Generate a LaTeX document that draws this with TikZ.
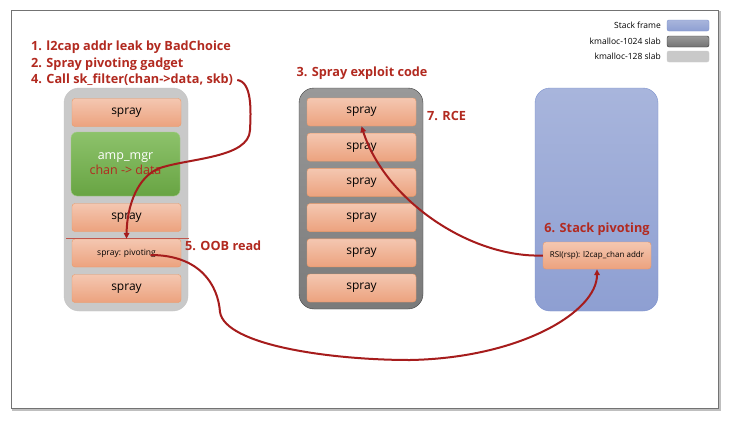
\documentclass[tikz,border=0pt]{standalone}
\usepackage{fontspec}
\setmainfont{Open Sans}
\usepackage{xcolor}
\usepackage{tikz}
\usetikzlibrary{arrows.meta, positioning, calc}
\definecolor{labelred}{HTML}{B22A20}
\definecolor{arrowred}{HTML}{A61C1C}
\definecolor{sprayline}{HTML}{EE9A66}
\definecolor{spraytop}{HTML}{F4C7B1}
\definecolor{spraybot}{HTML}{ECA27E}
\definecolor{mgrtop}{HTML}{8DC26B}
\definecolor{mgrbot}{HTML}{68A443}
\definecolor{stacktop}{HTML}{A8B5DC}
\definecolor{stackbot}{HTML}{8E9FD2}
\definecolor{stackline}{HTML}{7D92CE}

\begin{document}
\begin{tikzpicture}[
  x=1pt, y=-1pt,
  every node/.style={inner sep=0pt, font=\fontsize{12}{14}\selectfont},
  spraybox/.style={rectangle, rounded corners=3pt, draw=sprayline, top color=spraytop, bottom color=spraybot, minimum width=109pt, minimum height=28pt},
  slablight/.style={rectangle, rounded corners=15pt, draw=gray!45, fill=gray!42},
  slabdark/.style={rectangle, rounded corners=15pt, draw=black!75, top color=black!40, bottom color=black!52},
  stackbox/.style={rectangle, rounded corners=15pt, draw=stackline, top color=stacktop, bottom color=stackbot},
  steplabel/.style={text=labelred, font=\fontsize{12.7}{14}\selectfont\bfseries},
  legendtext/.style={anchor=east, font=\fontsize{8.5}{10}\selectfont},
  legendbox/.style={rectangle, rounded corners=2pt, minimum width=42pt, minimum height=11pt},
  redarrow/.style={draw=arrowred, line width=2pt, -{Triangle[length=6pt, width=5.5pt]}}
]
  \useasboundingbox (0,0) rectangle (730,423);
  % frame
  \draw[black!25, line width=2pt] (13,12) rectangle (720,410);
  \draw[black!55, fill=white, line width=0.8pt] (11,10) rectangle (718,408);

  % legend
  \node[legendtext] (lgstack) at (661,25.5) {Stack frame};
  \node[legendbox, draw=stackline, top color=stacktop, bottom color=stackbot] (bxstack) at (688,25.5) {};
  \node[legendtext] (lgdark) at (661,41.5) {kmalloc-1024 slab};
  \node[legendbox, draw=black!80, top color=black!40, bottom color=black!55] (bxdark) at (688,41.5) {};
  \node[legendtext] (lglight) at (661,56.5) {kmalloc-128 slab};
  \node[legendbox, draw=gray!40, fill=gray!42] (bxlight) at (688,56.5) {};

  % slabs
  \node[slablight, minimum width=124pt, minimum height=223pt] (slab128) at (126,199.5) {};
  \node[slabdark, minimum width=124pt, minimum height=221pt] (slab1024) at (361,198.5) {};
  \node[stackbox, minimum width=123pt, minimum height=223pt] (stack) at (596.5,199.5) {};

  % kmalloc-128 objects
  \node[spraybox] (sp1) at (126.5,112.5) {spray};
  \node[rectangle, rounded corners=6pt, draw=mgrtop!80, top color=mgrtop, bottom color=mgrbot, minimum width=109pt, minimum height=64pt, align=center, text=white, font=\fontsize{12.5}{14}\selectfont] (mgr) at (125.5,164) {amp\_mgr\\[1pt]\textcolor{labelred}{chan -> data}};
  \node[spraybox] (sp2) at (126.5,217.5) {spray};
  \node[spraybox, font=\fontsize{8.5}{10}\selectfont] (pivot) at (126.5,253) {spray: pivoting};
  \node[spraybox] (sp3) at (126.5,288.5) {spray};
  \draw[labelred!80, line width=0.9pt] (66,238) -- (189,238);

  % kmalloc-1024 objects
  \foreach \i in {0,...,5}
    \node[spraybox] (ex\i) at (361.5,112+35.2*\i) {spray};

  % stack frame
  \node[spraybox, minimum width=108pt, minimum height=27pt, font=\fontsize{8}{10}\selectfont] (rsi) at (597,255.5) {RSI(rsp): l2cap\_chan addr};

  % step labels
  \node[steplabel, anchor=west] (st1) at (31,47) {1. l2cap addr leak by BadChoice};
  \node[steplabel, anchor=west] (st2) at (31,64) {2. Spray pivoting gadget};
  \node[steplabel, anchor=west] (st4) at (31,80) {4. Call sk\_filter(chan->data, skb)};
  \node[steplabel] (st3) at (362,73) {3. Spray exploit code};
  \node[steplabel, anchor=west] (st7) at (427,116) {7. RCE};
  \node[steplabel, anchor=west] (st5) at (185,246) {5. OOB read};
  \node[steplabel] (st6) at (597,229) {6. Stack pivoting};

  % arrows
  \coordinate (pvend) at ($(pivot.center)+(24,2)$);
  \draw[redarrow] ($(st4.east)+(4,0)$) .. controls (252,82) and (251,110) .. (250,130)
    .. controls (249,158) and (190,158) .. (160,168)
    .. controls (138,176) and (127,205) .. (pivot.north);
  \draw[redarrow] (pvend) .. controls (200,255) and (218,285) .. (220,312)
    .. controls (225,345) and (330,360) .. (410,360)
    .. controls (520,358) and (597,312) .. (rsi.south);
  \draw[redarrow] (rsi.west) .. controls (470,258) and (385,200) .. (ex0.south);
\end{tikzpicture}
\end{document}
